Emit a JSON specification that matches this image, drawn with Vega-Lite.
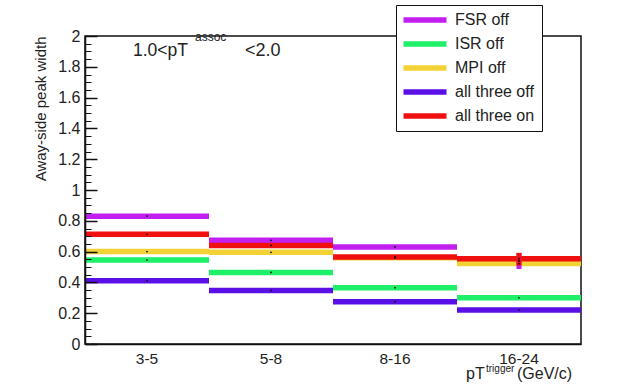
{
  "$schema": "https://vega.github.io/schema/vega-lite/v6.json",
  "width": 496,
  "height": 308,
  "autosize": {"type": "none"},
  "padding": {"left": 85, "top": 36, "right": 45, "bottom": 42},
  "config": {
    "view": {"stroke": "#111", "strokeWidth": 1.5},
    "font": "Liberation Sans",
    "axis": {"grid": false, "domainColor": "#111", "domainWidth": 1.5, "tickColor": "#111", "labelFont": "Liberation Sans", "titleFont": "Liberation Sans", "labelColor": "#222", "titleColor": "#222"},
    "legend": {"labelFont": "Liberation Sans"}
  },
  "resolve": {"axis": {"y": "independent"}},
  "data": {"values": [
    {"bin": "3-5", "series": "FSR off", "value": 0.83},
    {"bin": "5-8", "series": "FSR off", "value": 0.673},
    {"bin": "8-16", "series": "FSR off", "value": 0.63},
    {"bin": "16-24", "series": "FSR off", "value": 0.54, "lo": 0.487, "hi": 0.59},
    {"bin": "3-5", "series": "ISR off", "value": 0.545},
    {"bin": "5-8", "series": "ISR off", "value": 0.465},
    {"bin": "8-16", "series": "ISR off", "value": 0.366},
    {"bin": "16-24", "series": "ISR off", "value": 0.30},
    {"bin": "3-5", "series": "MPI off", "value": 0.60},
    {"bin": "5-8", "series": "MPI off", "value": 0.595},
    {"bin": "8-16", "series": "MPI off", "value": 0.56},
    {"bin": "16-24", "series": "MPI off", "value": 0.522},
    {"bin": "3-5", "series": "all three off", "value": 0.41},
    {"bin": "5-8", "series": "all three off", "value": 0.347},
    {"bin": "8-16", "series": "all three off", "value": 0.275},
    {"bin": "16-24", "series": "all three off", "value": 0.221},
    {"bin": "3-5", "series": "all three on", "value": 0.712},
    {"bin": "5-8", "series": "all three on", "value": 0.64},
    {"bin": "8-16", "series": "all three on", "value": 0.565},
    {"bin": "16-24", "series": "all three on", "value": 0.554, "lo": 0.51, "hi": 0.592}
  ]},
  "layer": [
    {
      "mark": {"type": "tick", "size": 124, "thickness": 5.5, "opacity": 1},
      "encoding": {
        "x": {"field": "bin", "type": "nominal",
          "scale": {"domain": ["3-5", "5-8", "8-16", "16-24"], "paddingInner": 0, "paddingOuter": 0},
          "axis": {"title": null, "labelFontSize": 15.5, "labelAngle": 0, "ticks": false, "labelPadding": 7, "zindex": 1}},
        "y": {"field": "value", "type": "quantitative",
          "scale": {"domain": [0, 2], "nice": false},
          "axis": {"orient": "left", "zindex": 1, "values": [0, 0.2, 0.4, 0.6, 0.8, 1, 1.2, 1.4, 1.6, 1.8, 2], "format": ".1~f", "labelOverlap": false, "labelFontSize": 16, "ticks": true, "tickSize": -12, "tickWidth": 1.5, "labelPadding": 17,
            "title": "Away-side peak width", "titleFontSize": 15, "titleFontWeight": "normal", "titleAnchor": "end", "titlePadding": 9}},
        "color": {"field": "series", "type": "nominal",
          "scale": {"domain": ["FSR off", "ISR off", "MPI off", "all three off", "all three on"], "range": ["#c31ef0", "#1ef06a", "#f2d234", "#5a0fe6", "#f01010"]},
          "legend": {"orient": "none", "legendX": 311, "legendY": -31, "title": null, "symbolType": "M-2.867,-0.37H2.867V0.37H-2.867Z", "symbolSize": 225, "symbolStrokeWidth": 0, "symbolOffset": 14, "labelFontSize": 16, "labelOffset": 22, "labelLimit": 400, "padding": 7, "strokeColor": "#111", "fillColor": "#fff", "rowPadding": 8, "labelColor": "#222",
            "labelExpr": "datum.label + '\u00a0\u00a0\u00a0\u00a0\u00a0\u00a0\u00a0\u00a0\u00a0\u00a0\u00a0\u00a0\u00a0\u00a0\u00a0\u00a0\u00a0'"}}
      }
    },
    {
      "transform": [{"filter": "isValid(datum.lo)"}],
      "mark": {"type": "rule", "strokeWidth": 5},
      "encoding": {
        "x": {"field": "bin", "type": "nominal"},
        "y": {"field": "lo", "type": "quantitative", "axis": null},
        "y2": {"field": "hi"},
        "color": {"field": "series", "type": "nominal"}
      }
    },
    {
      "mark": {"type": "point", "filled": true, "size": 3, "color": "#000", "opacity": 1},
      "encoding": {
        "x": {"field": "bin", "type": "nominal"},
        "y": {"field": "value", "type": "quantitative", "axis": null}
      }
    },
    {
      "data": {"values": [{}]},
      "mark": {"type": "text", "text": "1.0<pT", "fontSize": 17.5, "align": "left", "baseline": "middle", "dx": -14, "color": "#222"},
      "encoding": {
        "x": {"datum": "3-5", "type": "nominal"},
        "y": {"datum": 1.9, "type": "quantitative",
          "axis": {"orient": "left", "zindex": 1, "values": [0.05, 0.1, 0.15, 0.25, 0.3, 0.35, 0.45, 0.5, 0.55, 0.65, 0.7, 0.75, 0.85, 0.9, 0.95, 1.05, 1.1, 1.15, 1.25, 1.3, 1.35, 1.45, 1.5, 1.55, 1.65, 1.7, 1.75, 1.85, 1.9, 1.95], "ticks": true, "tickSize": -6, "tickWidth": 1, "labels": false, "domain": false, "title": null, "grid": false}}
      }
    },
    {
      "data": {"values": [{}]},
      "mark": {"type": "text", "text": "assoc", "fontSize": 12, "align": "left", "baseline": "middle", "dx": 48, "dy": -14, "color": "#222"},
      "encoding": {
        "x": {"datum": "3-5", "type": "nominal"},
        "y": {"datum": 1.9, "type": "quantitative", "axis": null}
      }
    },
    {
      "data": {"values": [{}]},
      "mark": {"type": "text", "text": "<2.0", "fontSize": 18, "align": "left", "baseline": "middle", "dx": 98, "color": "#222"},
      "encoding": {
        "x": {"datum": "3-5", "type": "nominal"},
        "y": {"datum": 1.9, "type": "quantitative", "axis": null}
      }
    },
    {
      "data": {"values": [{}]},
      "mark": {"type": "text", "text": "pT", "fontSize": 16, "align": "left", "baseline": "alphabetic", "dx": -53, "color": "#222"},
      "encoding": {
        "x": {"datum": "16-24", "type": "nominal"},
        "y": {"datum": -0.23, "type": "quantitative", "axis": null}
      }
    },
    {
      "data": {"values": [{}]},
      "mark": {"type": "text", "text": "trigger", "fontSize": 10, "align": "left", "baseline": "alphabetic", "dx": -33, "dy": -7, "color": "#222"},
      "encoding": {
        "x": {"datum": "16-24", "type": "nominal"},
        "y": {"datum": -0.23, "type": "quantitative", "axis": null}
      }
    },
    {
      "data": {"values": [{}]},
      "mark": {"type": "text", "text": "(GeV/c)", "fontSize": 16, "align": "left", "baseline": "alphabetic", "dx": -2, "color": "#222"},
      "encoding": {
        "x": {"datum": "16-24", "type": "nominal"},
        "y": {"datum": -0.23, "type": "quantitative", "axis": null}
      }
    }
  ]
}
